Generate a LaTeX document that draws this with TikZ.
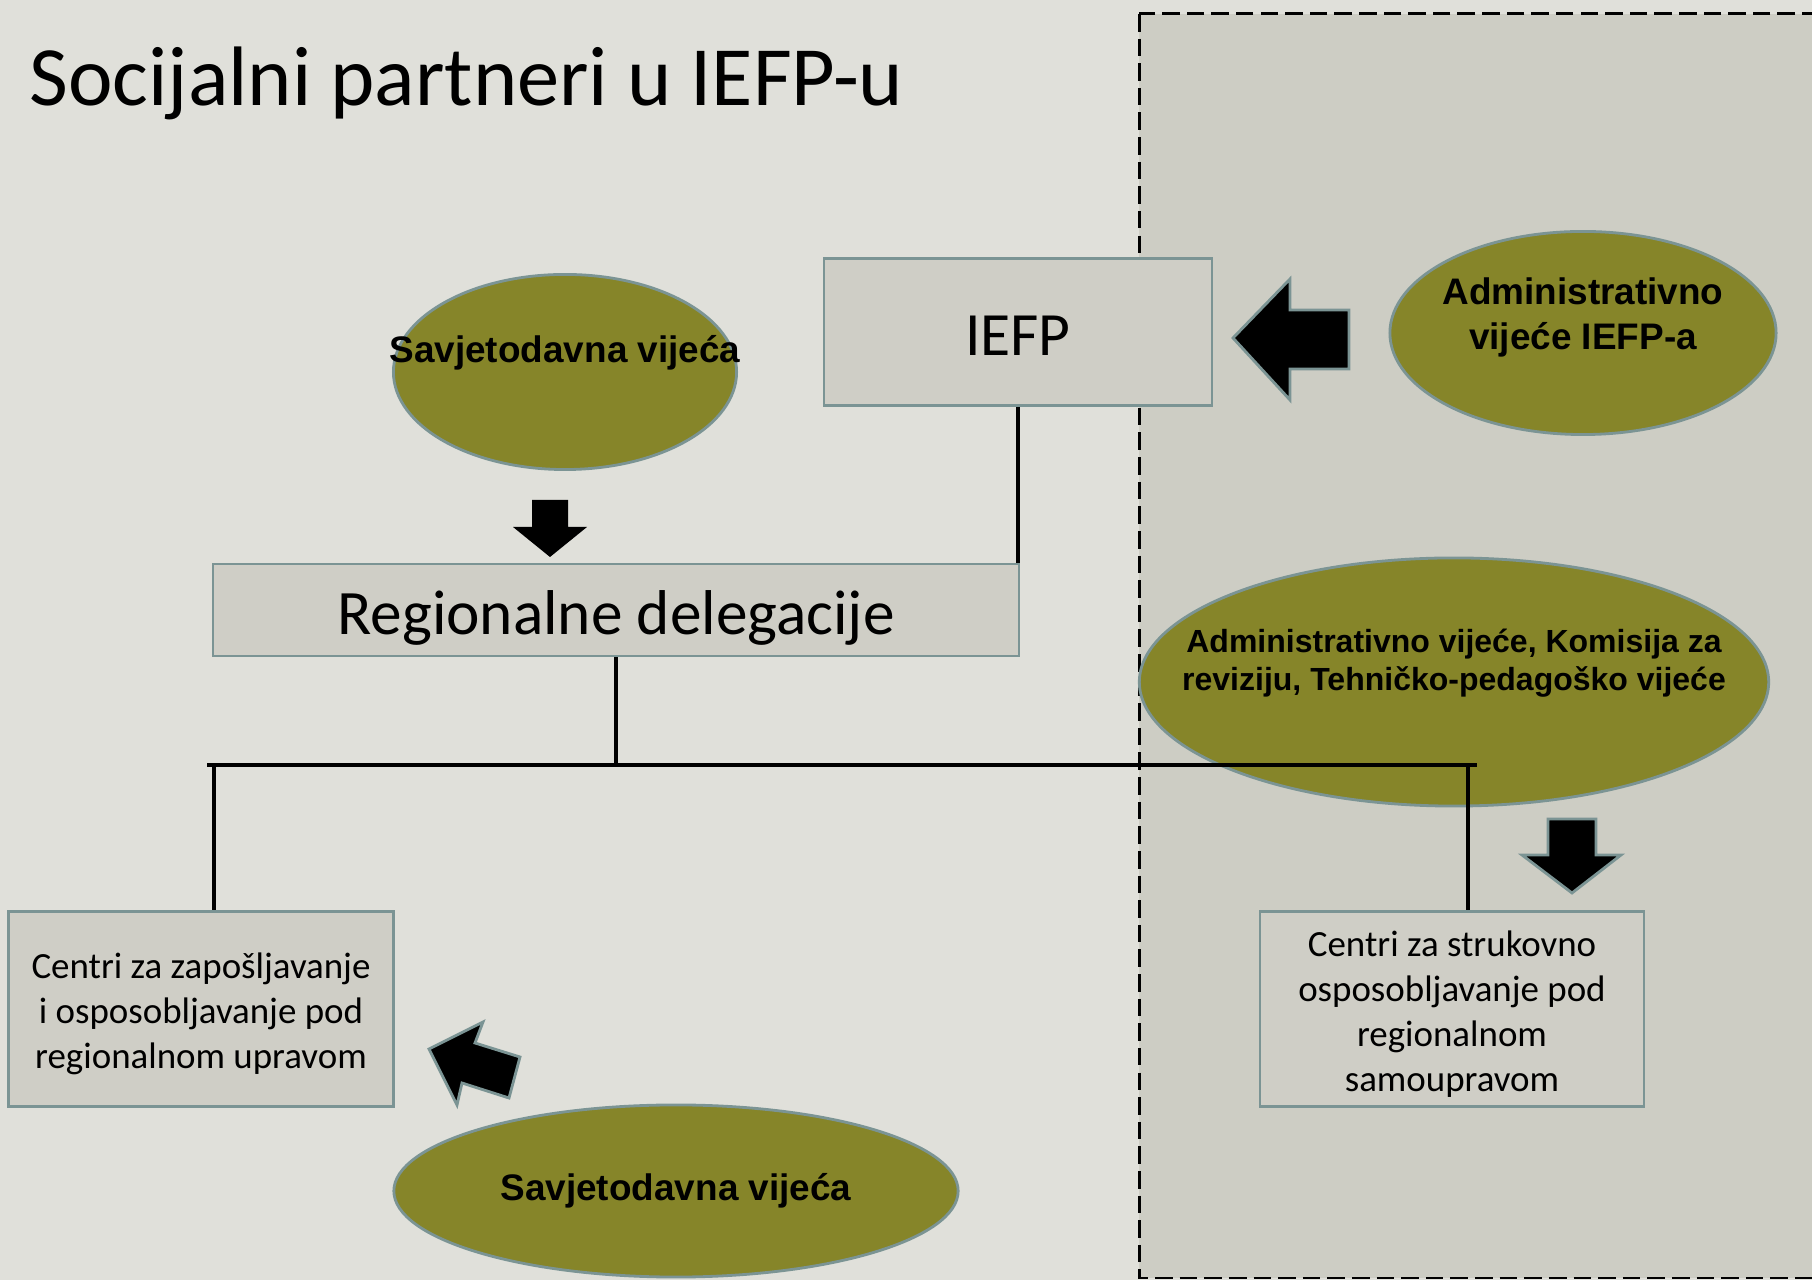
\documentclass[tikz,border=0pt]{standalone}
\usepackage{fontspec}
\setmainfont{Carlito}
\newfontfamily\arialfont{Liberation Sans}
\usetikzlibrary{shapes.geometric}
\usetikzlibrary{positioning}

\definecolor{slidebg}{HTML}{E0E0DA}
\definecolor{regionfill}{HTML}{CDCDC4}
\definecolor{boxfill}{HTML}{CFCEC6}
\definecolor{edgegray}{HTML}{7B9494}
\definecolor{councilgreen}{HTML}{868529}

\tikzset{
  unitbox/.style={draw=edgegray,line width=0.7pt,fill=boxfill,inner sep=0pt},
  unittext/.style={font=\fontsize{10.5}{12.8}\selectfont,align=center,inner sep=0pt},
  council/.style={ellipse,draw=edgegray,line width=0.8pt,fill=councilgreen,inner sep=0pt},
  counciltext/.style={font=\arialfont\bfseries\fontsize{10.5}{12.8}\selectfont,align=center,inner sep=0pt},
  link/.style={line width=0.9pt},
  blockarrow/.style={fill=black,draw=edgegray,line width=0.8pt,line join=miter},
}

\begin{document}
\begin{tikzpicture}[x=0.01cm,y=-0.01cm]
\useasboundingbox (0,0) rectangle (1812,1280);
\fill[slidebg] (0,0) rectangle (1812,1280);
% dashed region on the right
\begin{scope}
\clip (0,0) rectangle (1812,1280);
\draw[fill=regionfill,line width=0.85pt,dash pattern=on 5pt off 2pt] (1139,14) rectangle (1840,1278);
\end{scope}

\node[font=\fontsize{24}{29}\selectfont,anchor=base west,inner sep=0pt] (title) at (29,106) {Socijalni partneri u IEFP-u};

% boxes
\node[unitbox,minimum width=3.88cm,minimum height=1.47cm] (iefp) at (1018,332) {};
\node[unittext,font=\fontsize{17.5}{21}\selectfont] (iefpt) at (1018,336) {IEFP};
\node[unitbox,minimum width=8.06cm,minimum height=0.92cm] (reg) at (616,610) {};
\node[unittext,font=\fontsize{18}{22}\selectfont] (regt) at (616,618) {Regionalne delegacije};
\node[unitbox,minimum width=3.85cm,minimum height=1.95cm] (czo) at (201,1009) {};
\node[unittext] (czot) at (201,1014) {Centri za zapošljavanje\\i osposobljavanje pod\\regionalnom upravom};
\node[unitbox,minimum width=3.84cm,minimum height=1.95cm] (cso) at (1452,1009) {};
\node[unittext] (csot) at (1452,1014) {Centri za strukovno\\osposobljavanje pod\\regionalnom\\samoupravom};

% councils
\node[council,minimum width=3.43cm,minimum height=1.95cm] (sv1) at (565,372) {};
\node[counciltext] (sv1t) at (565,353) {Savjetodavna vijeća};
\node[council,minimum width=3.86cm,minimum height=2.03cm] (av) at (1583,333) {};
\node[counciltext] (avt) at (1583,317) {Administrativno\\vijeće IEFP-a};
\node[council,minimum width=6.29cm,minimum height=2.48cm] (ak) at (1454,682) {};
\node[counciltext,font=\arialfont\bfseries\fontsize{9.1}{10.9}\selectfont] (akt) at (1454,663) {Administrativno vijeće, Komisija za\\reviziju, Tehničko-pedagoško vijeće};
\node[council,minimum width=5.64cm,minimum height=1.72cm] (sv2) at (676,1191) {};
\node[counciltext] (sv2t) at (676,1191) {Savjetodavna vijeća};

% connectors
\coordinate (busL) at (207,765);
\coordinate (busR) at (1477,765);
\coordinate (dropL) at (214,765);
\coordinate (dropR) at (1468,765);
\draw[link] (iefp.south) -- (iefp.south |- reg.north);
\draw[link] (reg.south) -- (reg.south |- busL);
\draw[link] (busL) -- (busR);
\draw[link] (dropL) -- (dropL |- czo.north);
\draw[link] (dropR) -- (dropR |- cso.north);

% block arrows
\fill[black] (532,500) -- (568,500) -- (568,527) -- (587,527) -- (550,557) -- (513,527) -- (532,527) -- cycle;
\draw[blockarrow] (1233,338) -- (1290,279) -- (1290,310) -- (1349,310) -- (1349,369) -- (1290,369) -- (1290,400) -- cycle;
\draw[blockarrow] (1548,819) -- (1596,819) -- (1596,855) -- (1621,855) -- (1572,893) -- (1522,855) -- (1548,855) -- cycle;
\draw[blockarrow] (429,1049) -- (483,1022) -- (475,1043) -- (520,1057) -- (509,1098) -- (462,1083) -- (457,1105) -- cycle;
\end{tikzpicture}
\end{document}
